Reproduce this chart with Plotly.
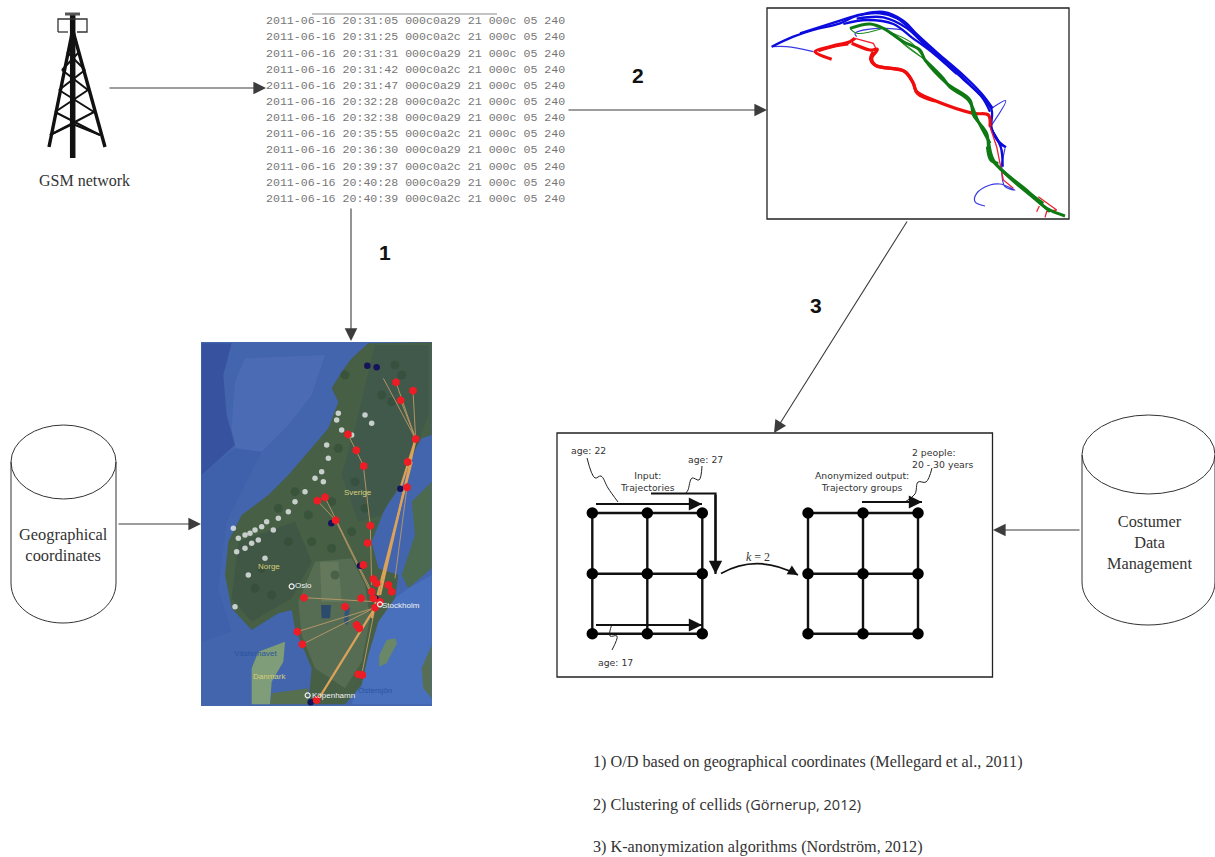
import plotly.graph_objects as go

LOG_TIMES = ["20:31:05","20:31:25","20:31:31","20:31:42","20:31:47","20:32:28","20:32:38","20:35:55","20:36:30","20:39:37","20:40:28","20:40:39"]
LOG_CELLS = ["000c0a29","000c0a2c","000c0a29","000c0a2c","000c0a29","000c0a2c","000c0a29","000c0a2c","000c0a29","000c0a2c","000c0a29","000c0a2c"]
LOG_DATE = "2011-06-16"
LOG_TAIL = "21 000c 05 240"
FOOTNOTES = [
    "1) O/D based on geographical coordinates (Mellegard et al., 2011)",
    "2) Clustering of cellids <span style=\"font-family:'Open Sans';font-size:14.5px\">(Görnerup, 2012)</span>",
    "3) K-anonymization algorithms (Nordström, 2012)",
]

# Trajectory plot, crop coordinates
BLUE_THICK = [
    [(35,140),(100,110),(160,90),(240,70),(290,48),(360,40),(410,55),(460,95),(510,145),(570,195),(630,255),(670,295),(695,330),(695,385),(720,430),(735,440)],
    [(120,100),(240,62),(300,44),(370,36),(430,62),(472,104),(534,160),(604,220),(664,280),(698,325)],
    [(290,56),(370,52),(440,84),(490,130),(545,180),(610,238),(666,292),(690,335)],
    [(250,72),(320,60),(400,72),(455,112),(520,160),(590,222)],
    [(690,375),(712,420),(738,442)],
    [(695,390),(722,440),(728,500)],
]
BLUE_THIN = [
    [(35,140),(80,140),(160,155)],
    [(695,325),(737,302),(695,375)],
    [(290,110),(285,100),(350,85),(430,90)],
    [(675,618),(645,605),(650,580),(690,555),(720,552),(765,570),(735,560),(725,510),(735,445)],
    [(720,510),(728,460),(710,420)],
]
RED_THICK = [
    [(215,178),(165,155),(210,140),(270,125),(285,115)],
    [(275,130),(330,150),(352,148),(335,175),(345,195),(435,215),(460,250),(470,275),(520,300),(640,340),(685,345),(690,380)],
    [(340,155),(332,178),(350,198),(430,212),(458,246),(472,280),(525,303)],
    [(175,152),(225,138),(265,132)],
]
RED_THIN = [
    [(285,115),(340,130),(350,150)],
    [(690,380),(710,440),(730,540),(760,565)],
    [(835,590),(890,630),(860,635),(855,652)],
    [(838,618),(830,635)],
]
GREEN_THICK = [
    [(270,85),(330,72),(370,85),(430,125),(480,150),(495,180),(560,250),(630,300),(640,345),(680,400),(690,470),(730,515),(800,570),(860,625),(915,648)],
    [(685,420),(700,480),(740,525),(810,585),(870,635)],
    [(495,180),(550,235),(570,262),(625,300),(655,365),(690,430)],
    [(720,505),(790,565),(850,610)],
    [(682,440),(692,480),(715,490)],
]
GREEN_THIN = [
    [(270,85),(290,100),(370,85)],
    [(370,85),(470,160),(495,180)],
    [(385,95),(450,125),(485,165)],
    [(400,100),(440,140),(490,175)],
]

# Map, crop coordinates
MAP_DARK_SEA = [(20,25),(110,25),(85,120),(95,240),(120,330),(20,420)]
MAP_LIGHT_SEA = [(150,70),(390,60),(350,180),(280,270),(200,350),(140,430),(110,280),(120,140)]
MAP_MID_SEA = [(20,420),(120,340),(200,350),(150,450),(95,560),(70,760),(110,890),(20,920)]
MAP_BALTIC = [(530,840),(600,790),(640,760),(710,720),(710,1108),(470,1108),(520,960)]
MAP_LAND = [(520,25),(470,70),(440,110),(410,160),(430,200),(400,280),(340,350),(280,420),(220,480),(140,540),(100,620),(90,720),(110,820),(170,885),(250,835),(290,825),(300,880),(330,950),(350,1000),(340,1108),(450,1108),(500,1050),(520,960),(550,860),(600,790),(610,720),(550,700),(530,620),(570,520),(620,450),(650,360),(680,310),(710,300),(710,22)]
MAP_LIGHT_LAND = [(360,680),(470,670),(510,750),(525,850),(500,980),(450,1060),(360,1000),(320,900),(310,800)]
MAP_DARK_LAND = [(540,30),(700,30),(700,240),(640,400),(560,540),(490,560),(440,420),(480,280)]
MAP_DARK_LAND_2 = [(130,620),(300,560),(350,680),(290,790),(170,860),(110,790)]
MAP_FARM = [(375,680),(430,680),(440,800),(380,800)]
MAP_LAKE_1 = [(378,810),(408,810),(405,850),(380,850)]
MAP_LAKE_2 = [(450,815),(465,818),(458,870),(447,865)]
MAP_FINLAND = [(710,440),(650,500),(660,600),(620,720),(640,760),(710,700)]
MAP_DENMARK = [(170,1000),(190,950),(270,920),(265,980),(230,1040),(225,1108),(170,1108)]
MAP_ZEALAND = [(230,1075),(340,1060),(340,1108),(225,1108)]
MAP_ISLAND_1 = [(552,995),(575,985),(606,925),(600,910),(575,915),(553,960)]
MAP_ISLAND_2 = [(710,930),(680,1000),(685,1060),(710,1090)]
MAP_SNOW_X = [115,130,150,165,180,200,215,235,250,190,170,150,125,120,430,440,425,395,400,385,510,530,470,380,360,330,300,280,210,160]
MAP_SNOW_Y = [580,610,600,595,585,575,560,585,550,615,625,640,650,815,235,285,255,330,370,440,240,265,300,410,430,470,500,530,670,720]
MAP_SPECK_X = [430,300,340,250,200,180,480,410,590,620,350,470,410,280,230,560,600,450,420,510]
MAP_SPECK_Y = [340,470,540,520,700,760,440,640,200,120,620,590,500,620,780,180,90,120,720,520]
MAP_LINES_THIN = [
    [(662,312),(603,142)],[(662,312),(617,196)],[(662,312),(654,167)],[(662,312),(565,130)],
    [(540,800),(422,556)],[(530,770),(390,487)],[(540,818),(322,928)],[(540,818),(307,890)],
    [(540,800),(327,788)],[(505,393),(526,572)],[(526,572),(530,750)],[(459,298),(506,393)],
    [(636,457),(600,730)],[(540,818),(500,1020)],[(367,497),(422,556)],
]
MAP_LINES_THICK = [
    [(662,312),(616,461)],[(662,312),(555,780)],[(540,818),(375,1085)],[(650,380),(530,850)],
]
MAP_RED_X = [603,654,617,662,459,484,506,638,636,367,390,422,526,518,505,535,545,580,590,530,535,498,327,450,540,555,485,493,307,322,490,502,365]
MAP_RED_Y = [142,167,196,312,298,346,393,381,457,497,487,556,572,624,690,732,745,750,770,770,790,790,788,815,818,800,870,880,890,928,1018,1020,1095]
MAP_NAVY_X = [545,517,616,409,495,542,347]
MAP_NAVY_Y = [97,92,461,565,692,790,1102]
MAP_CITY_X = [290,555,338]
MAP_CITY_Y = [754,808,1081]
MAP_LABELS = [("Sverige",488,472,"#d8cf7a"),("Norge",222,695,"#d8cf7a"),("Danmark",222,1024,"#d8cf7a"),("Västerhavet",180,955,"#2a55a0"),
              ("Östersjön",540,1066,"#2a55a0"),("Oslo",325,752,"#f2f2f2"),("Stockholm",618,810,"#f2f2f2"),("Köpenhamn",415,1080,"#f2f2f2")]

# Tower
TOWER_HEAVY = [[(72.7,30),(72.7,158)],[(72.7,30),(49,147)],[(72.7,30),(105,147)]]
TOWER_BRACE = [[(67,52),(85,70)],[(79,52),(62,70)],[(62,70),(88,90)],[(85,70),(59,90)],[(59,90),(94,112)],[(88,90),(55,112)],
               [(55,112),(100,135)],[(94,112),(50,135)],[(50,135),(72.7,124)],[(100,135),(72.7,124)]]
TOWER_TOP = [[(58,32),(58,19),(87,19),(87,32),(77,32)],[(58,32),(68,32)]]

# Anonymization panel
GRID_LEFT_X = [592.3,647.3,702.3]
GRID_RIGHT_X = [808,863,918]
GRID_Y = [513,573.7,633.7]
SQUIGGLES = [
    [(587,458),(595,478),(601,476),(608,488),(618,502)],
    [(702,466),(699,480),(692,478),(688,490),(686,493)],
    [(612,650),(617,636),(610,636),(612,625),(613,625)],
    [(932,468),(926,482),(918,482),(915,494),(905,502)],
]
TRAJ_ARROWS = [
    [(596,504),(702,504)],[(596,625),(702,625)],[(651,493.5),(715.5,493.5),(715.5,574)],[(862,502),(922,502)],
]
PANEL_LABELS = [("age: 22",588,450),("age: 27",705,459),("Input:<br>Trajectories",647,481),("age: 17",615,662),
                ("Anonymized output:<br>Trajectory groups",862,481)]
PEOPLE_LABEL = "2 people:<br>20 - 30 years"
ARC_LABEL = ("<i>k</i> = 2",757.5,557)

FLOW_ARROWS = [((108,88),(266,88)),((567,110),(767,110)),((351,207),(351,341)),((908,220),(774,433)),((117,524),(201,524)),((1081,530),(993,530))]
STEP_LABELS = [("1",385,252),("2",638,75),("3",816,305)]
ARC_CURVE = "M 721,573.5 Q 757,553 798,575"

fig = go.Figure()
BOX = dict(xref="x", yref="y")

def path(points, color, width, mode="lines", shape="linear", **kw):
    fig.add_trace(go.Scatter(x=[p[0] for p in points], y=[p[1] for p in points], mode=mode,
                             line=dict(color=color, width=width, shape=shape), hoverinfo="skip", showlegend=False, **kw))

def crop(points, ox, oy):
    return [(ox + px / 3, oy + py / 3) for px, py in points]

def poly(points, color):
    path(crop(points, 195, 335), color, 0, fill="toself", fillcolor=color)

def dots(xs, ys, **marker):
    fig.add_trace(go.Scatter(x=[195 + v / 3 for v in xs], y=[335 + v / 3 for v in ys], mode="markers",
                             marker=marker, hoverinfo="skip", showlegend=False))

# Tower
for seg in TOWER_HEAVY:
    path(seg, "#111111", 3.4)
path([(72.7,15),(72.7,158)], "#111111", 5.5)
for seg in TOWER_BRACE:
    path(seg, "#111111", 2)
for seg in TOWER_TOP:
    path(seg, "#333333", 1.3)
path([(65,14),(80,14)], "#555555", 3)

# Map
path([(201,342),(432,342),(432,706),(201,706)], "#4365ae", 0, fill="toself", fillcolor="#4365ae")
poly(MAP_DARK_SEA, "#3753a0")
poly(MAP_LIGHT_SEA, "#4c6bb5")
poly(MAP_MID_SEA, "#3f61ac")
poly(MAP_BALTIC, "#4870bd")
poly(MAP_LAND, "#465f45")
poly(MAP_LIGHT_LAND, "#566d54")
poly(MAP_DARK_LAND, "#41594a")
poly(MAP_DARK_LAND_2, "#405745")
poly(MAP_FARM, "#64785c")
poly(MAP_LAKE_1, "#2c4a6c")
poly(MAP_LAKE_2, "#35547a")
poly(MAP_FINLAND, "#4c6a50")
poly(MAP_DENMARK, "#7f9d78")
poly(MAP_ZEALAND, "#56704f")
poly(MAP_ISLAND_1, "#6a8768")
poly(MAP_ISLAND_2, "#566f54")
dots(MAP_SPECK_X, MAP_SPECK_Y, color="#2e4a33", size=9, opacity=0.5)
dots(MAP_SNOW_X, MAP_SNOW_Y, color="#e8ecec", size=5.5, opacity=0.8)
for seg in MAP_LINES_THIN:
    path(crop(seg, 195, 335), "#bd9a66", 0.9)
for seg in MAP_LINES_THICK:
    path(crop(seg, 195, 335), "#dca25a", 2.2)
dots(MAP_NAVY_X, MAP_NAVY_Y, color="#14145a", size=6.5)
dots(MAP_RED_X, MAP_RED_Y, color="#ee1c25", size=8.5, symbol="hexagon")
dots(MAP_CITY_X, MAP_CITY_Y, color="rgba(0,0,0,0)", size=5, line=dict(color="#f2f2f2", width=1.2))

# Trajectories
for seg in BLUE_THIN:
    path(crop(seg, 760, 0), "#3a3ae0", 1.2, shape="spline")
for seg in BLUE_THICK:
    path(crop(seg, 760, 0), "#0b0bdd", 2.3, shape="spline")
for seg in RED_THIN:
    path(crop(seg, 760, 0), "#ee2030", 1.3)
for seg in RED_THICK:
    path(crop(seg, 760, 0), "#f00d0d", 3.2, shape="spline")
for seg in GREEN_THIN:
    path(crop(seg, 760, 0), "#1f8a1f", 1.1, shape="spline")
for seg in GREEN_THICK:
    path(crop(seg, 760, 0), "#0f7a14", 2.9, shape="spline")

# Anonymization grids
for xs in (GRID_LEFT_X, GRID_RIGHT_X):
    for y in GRID_Y:
        path([(xs[0], y), (xs[2], y)], "#111111", 2.4)
    for x in xs:
        path([(x, GRID_Y[0]), (x, GRID_Y[2])], "#111111", 2.4)
    fig.add_trace(go.Scatter(x=[x for x in xs for _ in GRID_Y], y=GRID_Y * 3, mode="markers",
                             marker=dict(color="#000000", size=11.5), hoverinfo="skip", showlegend=False))
for seg in SQUIGGLES:
    path(seg, "#222222", 1, shape="spline")
for seg in TRAJ_ARROWS:
    path(seg, "#111111", 2.2)
    a, b = seg[-2], seg[-1]
    fig.add_annotation(x=b[0], y=b[1], ax=a[0], ay=a[1], axref="x", ayref="y", xref="x", yref="y", text="",
                       showarrow=True, arrowhead=2, arrowsize=1.2, arrowwidth=2.2, arrowcolor="#111111")

# Panels and cylinders
shapes = [
    dict(type="rect", x0=767, x1=1069, y0=8, y1=219, line=dict(color="#222222", width=1.3), **BOX),
    dict(type="rect", x0=557, x1=992.5, y0=433, y1=677, line=dict(color="#222222", width=1.3), **BOX),
    dict(type="line", x0=312, x1=497, y0=14, y1=14, line=dict(color="#888888", width=1), **BOX),
    dict(type="circle", x0=11, x1=116, y0=425, y1=499, line=dict(color="#333333", width=1), **BOX),
    dict(type="path", path="M 11,462 L 11,583 C 11,606 34,623 63,623 C 92,623 116,606 116,583 L 116,462", line=dict(color="#333333", width=1), **BOX),
    dict(type="circle", x0=1082, x1=1215, y0=415, y1=494, line=dict(color="#333333", width=1), **BOX),
    dict(type="path", path="M 1082,455 L 1082,582 C 1082,606 1110,625 1148,625 C 1186,625 1215,606 1215,582 L 1215,455", line=dict(color="#333333", width=1), **BOX),
    dict(type="path", path=ARC_CURVE, line=dict(color="#111111", width=1.7), **BOX),
]
fig.update_layout(shapes=shapes)

def label(text, x, y, size, color="#333333", family="Liberation Serif", anchor="center", **kw):
    fig.add_annotation(x=x, y=y, xref="x", yref="y", text=text, showarrow=False, xanchor=anchor, yanchor="middle",
                       align=anchor, font=dict(family=family, size=size, color=color), **kw)

for a, b in FLOW_ARROWS:
    fig.add_annotation(x=b[0], y=b[1], ax=a[0], ay=a[1], axref="x", ayref="y", xref="x", yref="y", text="",
                       showarrow=True, arrowhead=2, arrowsize=2.3, arrowwidth=1.1, arrowcolor="#3c3c3c")
fig.add_annotation(x=798, y=575, ax=788, ay=569, axref="x", ayref="y", xref="x", yref="y", text="",
                   showarrow=True, arrowhead=2, arrowsize=1.2, arrowwidth=1.7, arrowcolor="#111111")

for i, (t, c) in enumerate(zip(LOG_TIMES, LOG_CELLS)):
    label(f"{LOG_DATE} {t} {c} {LOG_TAIL}", 264, 20.7 + i * 16.15, 11.6, "#777777", "Liberation Mono", "left")

label("GSM network", 84, 180, 16)
label("Geographical<br>coordinates", 63, 545, 16.4)
label("Costumer<br>Data<br>Management", 1149, 542.5, 16.3)
for t, x, y in STEP_LABELS:
    label(f"<b>{t}</b>", x, y, 21, "#111111", "Liberation Sans", "center")
for t, x, y, c in MAP_LABELS:
    label(t, 195 + x / 3, 335 + y / 3, 8, c, "Liberation Sans")
for t, x, y in PANEL_LABELS:
    label(t, x, y, 9.3, "#333333", "DejaVu Sans")
label(ARC_LABEL[0], ARC_LABEL[1], ARC_LABEL[2], 12, "#333333", "Liberation Serif")
label(PEOPLE_LABEL, 910, 458, 9.3, "#333333", "DejaVu Sans", "left")
for text, y in zip(FOOTNOTES, (762, 804, 847)):
    label(text, 591, y, 16.2, "#333333", "Liberation Serif", "left")

fig.update_layout(
    width=1215, height=857, autosize=False, margin=dict(l=0, r=0, t=0, b=0),
    paper_bgcolor="white", plot_bgcolor="white", showlegend=False,
    xaxis=dict(range=[0, 1215], visible=False, fixedrange=True),
    yaxis=dict(range=[857, 0], visible=False, fixedrange=True),
)
fig.write_html("out.html", post_script="document.body.style.margin='0';document.body.style.overflow='hidden';",
               config={"displayModeBar": False})
